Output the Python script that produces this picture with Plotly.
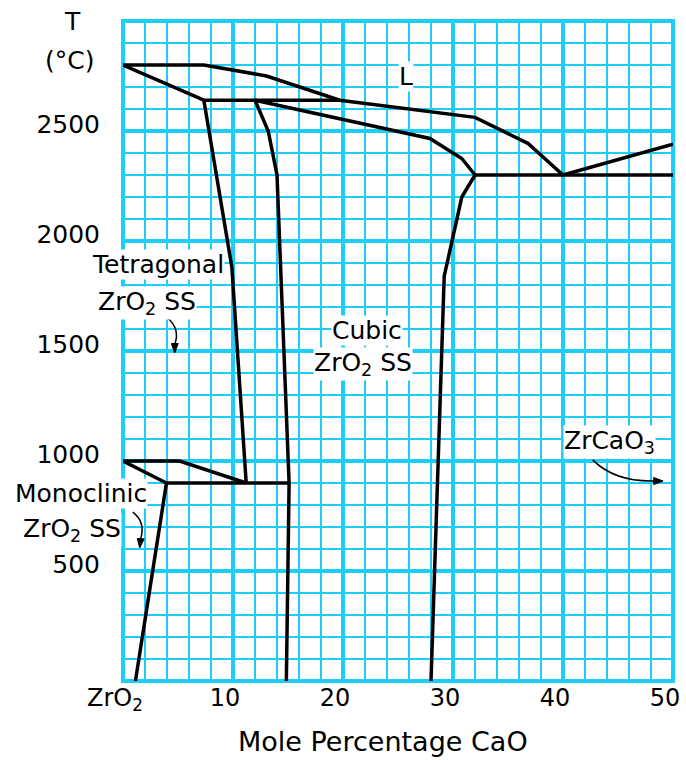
import plotly.graph_objects as go

# ---- phase boundaries of the ZrO2-CaO system (mole % CaO, temperature in degC) ----
liquidus_x = [0, 7.35, 13.05, 19.7, 32.0, 36.8, 40.0, 50.0]
liquidus_t = [2800, 2800, 2750, 2640, 2562, 2444, 2300, 2440]

tet_solidus_x = [0, 7.35]
tet_solidus_t = [2800, 2640]

peritectic_x = [7.35, 19.7]
peritectic_t = [2640, 2640]

tet_boundary_x = [7.35, 9.9, 11.2]
tet_boundary_t = [2640, 1880, 900]

cubic_left_x = [12.0, 13.2, 14.0, 15.1, 14.85]
cubic_left_t = [2640, 2500, 2300, 900, 0]

cubic_solidus_x = [12.0, 27.9, 30.8, 32.0]
cubic_solidus_t = [2640, 2466, 2375, 2300]

cubic_right_x = [32.0, 30.8, 29.2, 28.0]
cubic_right_t = [2300, 2200, 1840, 0]

eutectic_x = [32.0, 50.0]
eutectic_t = [2300, 2300]

eutectoid_upper_x = [0, 5.15, 11.2]
eutectoid_upper_t = [1000, 1000, 900]

eutectoid_lower_x = [0, 3.95]
eutectoid_lower_t = [1000, 900]

eutectoid_line_x = [3.95, 15.1]
eutectoid_line_t = [900, 900]

monoclinic_x = [3.95, 1.13]
monoclinic_t = [900, 0]

boundaries = [
    (liquidus_x, liquidus_t),
    (tet_solidus_x, tet_solidus_t),
    (peritectic_x, peritectic_t),
    (tet_boundary_x, tet_boundary_t),
    (cubic_left_x, cubic_left_t),
    (cubic_solidus_x, cubic_solidus_t),
    (cubic_right_x, cubic_right_t),
    (eutectic_x, eutectic_t),
    (eutectoid_upper_x, eutectoid_upper_t),
    (eutectoid_lower_x, eutectoid_lower_t),
    (eutectoid_line_x, eutectoid_line_t),
    (monoclinic_x, monoclinic_t),
]

# ---- axis ticks ----
x_tick_vals = [0, 10, 20, 30, 40, 50]
x_tick_text = ["ZrO<sub>2</sub>", "10", "20", "30", "40", "50"]
y_tick_vals = [500, 1000, 1500, 2000, 2500]
y_tick_text = ["500", "1000", "1500", "2000", "2500"]

FONT = "DejaVu Sans"
GRID = "#1ccff9"
INK = "black"

fig = go.Figure()
for bx, bt in boundaries:
    fig.add_trace(go.Scatter(
        x=bx, y=bt, mode="lines",
        line=dict(color=INK, width=3.5),
        hoverinfo="skip", showlegend=False,
    ))


def label(x, y, txt, xref="x", yref="y", size=25):
    # white box so the grid does not run through the words
    return dict(x=x, y=y, xref=xref, yref=yref, text=txt, showarrow=False,
                xanchor="center", yanchor="middle",
                font=dict(family=FONT, size=size, color=INK),
                bgcolor="white", borderpad=0)


annotations = [
    label(25.7, 2750, "L"),
    label(3.15, 1891, "Tetragonal"),
    label(2.15, 1718, "ZrO<sub>2</sub> SS"),
    label(22.15, 1595, "Cubic"),
    label(21.8, 1440, "ZrO<sub>2</sub> SS"),
    label(44.25, 1085, "ZrCaO<sub>3</sub>"),
    # monoclinic field label sits left of the axis, so it is placed in paper units
    label(-0.0769, 0.2848, "Monoclinic", xref="paper", yref="paper"),
    label(-0.0933, 0.2295, "ZrO<sub>2</sub> SS", xref="paper", yref="paper"),
]

# axis captions
cap = dict(showarrow=False, xref="paper", yref="paper",
           xanchor="center", yanchor="middle")
annotations += [
    dict(cap, x=-0.0927, y=1.0, text="T",
         font=dict(family=FONT, size=25, color=INK)),
    dict(cap, x=-0.0964, y=0.9394, text="(°C)",
         font=dict(family=FONT, size=25, color=INK)),
    dict(cap, x=0.4727, y=-0.0924, text="Mole Percentage CaO",
         font=dict(family=FONT, size=27, color=INK)),
]

# curved pointers from labels into their phase fields
pointer_paths = [
    "M 4.06,1650 Q 5.2,1600 4.72,1532",
    "M 42.7,1005 Q 44.7,905 48.3,909",
    "M 0.89,768 Q 2.08,723 1.60,646",
]
# filled arrow heads at the pointer tips
head_paths = [
    "M 4.70,1491 L 4.40,1534 L 5.02,1534 Z",
    "M 49.10,909 L 48.25,925 L 48.25,893 Z",
    "M 1.52,605 L 1.30,648 L 1.92,646 Z",
]
shapes = []
for p in pointer_paths:
    shapes.append(dict(type="path", path=p, xref="x", yref="y",
                       line=dict(color=INK, width=1.5)))
for p in head_paths:
    shapes.append(dict(type="path", path=p, xref="x", yref="y",
                       fillcolor=INK, line=dict(color=INK, width=1)))

# frame round the plotting area, drawn with the major grid weight
shapes.append(dict(type="rect", xref="paper", yref="paper",
                   x0=0, x1=1, y0=0, y1=1, layer="below",
                   line=dict(color=GRID, width=4)))

fig.update_layout(
    width=686, height=760,
    margin=dict(l=123, r=13, t=21, b=79, autoexpand=False),
    paper_bgcolor="white", plot_bgcolor="white",
    showlegend=False,
    annotations=annotations,
    shapes=shapes,
    xaxis=dict(
        range=[0, 50], tickmode="array",
        tickvals=x_tick_vals, ticktext=x_tick_text,
        showgrid=True, gridcolor=GRID, gridwidth=4,
        zeroline=False, showline=False, ticks="",
        tickfont=dict(family=FONT, size=24, color=INK),
        ticklabelshift=-8, ticklabelstandoff=0,
        minor=dict(dtick=2, showgrid=True, gridcolor=GRID, gridwidth=2),
        automargin=False, fixedrange=True,
    ),
    yaxis=dict(
        range=[0, 3000], tickmode="array",
        tickvals=y_tick_vals, ticktext=y_tick_text,
        showgrid=True, gridcolor=GRID, gridwidth=4,
        zeroline=False, showline=False, ticks="",
        tickfont=dict(family=FONT, size=25, color=INK),
        ticklabelshift=-7, ticklabelstandoff=22,
        minor=dict(dtick=100, showgrid=True, gridcolor=GRID, gridwidth=2),
        automargin=False, fixedrange=True,
    ),
)

fig.write_html("out.html")
